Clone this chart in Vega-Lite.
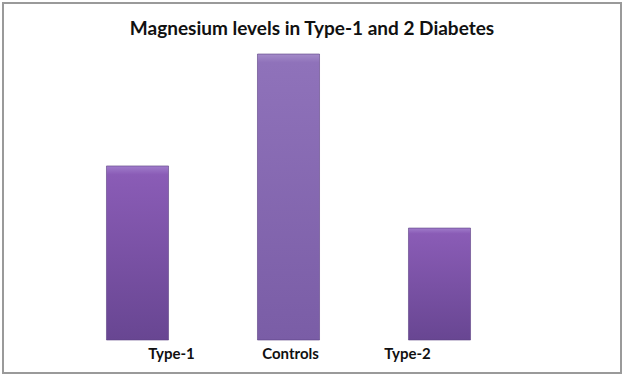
{
  "$schema": "https://vega.github.io/schema/vega-lite/v6.json",
  "width": 618,
  "height": 370,
  "padding": {"left": 3, "top": 3, "right": 3, "bottom": 3},
  "autosize": {"type": "none"},
  "background": "white",
  "config": {
    "view": {"stroke": "#9a9a9a", "strokeWidth": 2},
    "font": "Lato"
  },
  "title": {
    "text": "Magnesium levels in Type-1 and 2 Diabetes",
    "font": "Lato",
    "fontSize": 19,
    "fontWeight": "bold",
    "color": "#111111",
    "baseline": "alphabetic",
    "offset": -32,
    "dy": 19,
    "anchor": "middle"
  },
  "data": {
    "values": [
      {"group": "Type-1", "magnesium": 1.278},
      {"group": "Controls", "magnesium": 2.1},
      {"group": "Type-2", "magnesium": 0.822}
    ]
  },
  "mark": {
    "type": "bar",
    "stroke": "#5a3f82",
    "strokeWidth": 1,
    "strokeOpacity": 0.6
  },
  "encoding": {
    "x": {
      "field": "group",
      "type": "nominal",
      "sort": ["Type-1", "Controls", "Type-2"],
      "scale": {"range": [59, 512], "paddingInner": 0.589, "paddingOuter": 0.2945},
      "axis": {
        "title": null,
        "domain": false,
        "ticks": false,
        "grid": false,
        "labelAngle": 0,
        "labelFont": "Lato",
        "labelFontSize": 15,
        "labelFontWeight": "bold",
        "labelColor": "#111111",
        "labelBaseline": "top",
        "labelPadding": 1,
        "offset": -28,
        "labelOffset": {"expr": "datum.value === 'Type-1' ? 34 : datum.value === 'Type-2' ? -32 : 2"}
      }
    },
    "y": {
      "field": "magnesium",
      "type": "quantitative",
      "scale": {"domain": [0, 2.1], "range": [337, 51], "nice": false, "zero": true},
      "axis": null
    },
    "color": {
      "condition": {
        "test": "datum.group === 'Controls'",
        "value": {
          "gradient": "linear", "x1": 0, "y1": 0, "x2": 0, "y2": 1,
          "stops": [
            {"offset": 0, "color": "#a48bc9"},
            {"offset": 0.03, "color": "#8f72ba"},
            {"offset": 1, "color": "#7a5da6"}
          ]
        }
      },
      "value": {
        "gradient": "linear", "x1": 0, "y1": 0, "x2": 0, "y2": 1,
        "stops": [
          {"offset": 0, "color": "#a07ccb"},
          {"offset": 0.05, "color": "#8a5cb6"},
          {"offset": 1, "color": "#684692"}
        ]
      }
    }
  }
}
